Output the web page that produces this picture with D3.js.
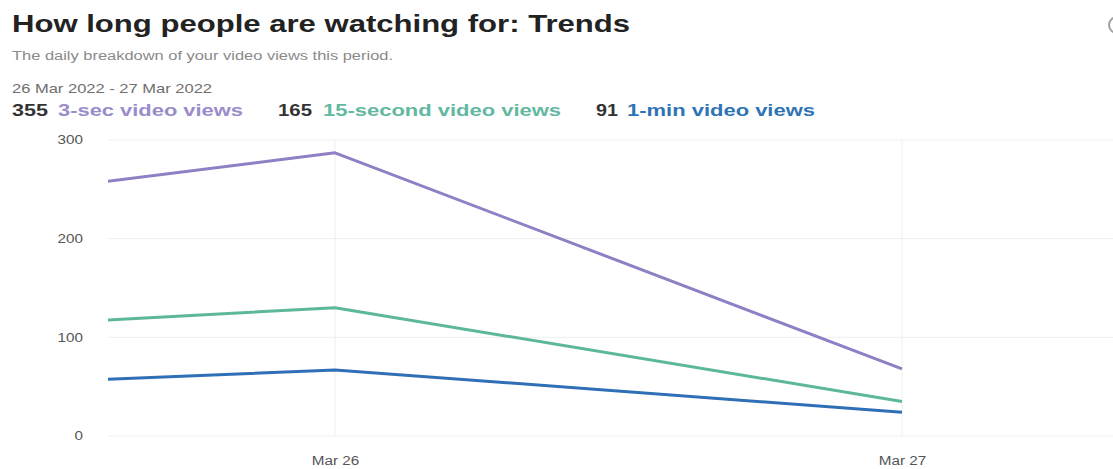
<!DOCTYPE html>
<html>
<head>
<meta charset="utf-8">
<script src="https://cdn.jsdelivr.net/npm/d3@7/dist/d3.min.js"></script>
<style>
  html, body { margin: 0; padding: 0; background: #fff; }
  svg { display: block; font-family: "Liberation Sans", Arial, sans-serif; }
</style>
</head>
<body>
<svg id="chart" width="1113" height="469"></svg>
<script>
// Daily video views by watch duration
const days = ["2022-03-25", "2022-03-26", "2022-03-27"];
const threeSecViews = [215, 287, 68];
const fifteenSecViews = [99, 130, 35];
const oneMinViews = [43, 67, 24];
const yTicks = [0, 100, 200, 300];
const xTickDays = ["2022-03-26", "2022-03-27"];
const legendTotals = [355, 165, 91];
const seriesNames = ["3-sec video views", "15-second video views", "1-min video views"];

const parseDay = d3.timeParse("%Y-%m-%d");
const lineColors = ["#8f7fc4", "#5db79b", "#2f6fb6"];
const labelColors = ["#9a8ccb", "#62b8a0", "#2e74b5"];

const svg = d3.select("#chart");
const plot = { left: 108, right: 1113, top: 140, bottom: 436 };

// Text in this layout is set wide; stretch glyphs to a given width
function fit(sel, width) {
  sel.attr("textLength", width).attr("lengthAdjust", "spacingAndGlyphs");
  return sel;
}

// Header
fit(svg.append("text").attr("x", 12).attr("y", 32)
  .attr("font-size", 24).attr("font-weight", "bold").attr("fill", "#222")
  .text("How long people are watching for: Trends"), 618);
fit(svg.append("text").attr("x", 12).attr("y", 60)
  .attr("font-size", 12).attr("fill", "#8a8a8a")
  .text("The daily breakdown of your video views this period."), 381);
fit(svg.append("text").attr("x", 12).attr("y", 93)
  .attr("font-size", 13).attr("fill", "#6e6e6e")
  .text("26 Mar 2022 - 27 Mar 2022"), 200);

// Clipped info icon at the top-right edge
svg.append("circle").attr("cx", 1117).attr("cy", 25).attr("r", 8)
  .attr("fill", "none").attr("stroke", "#a0a0a0").attr("stroke-width", 2);

// Legend: totals and series names
const legendLayout = [
  { numX: 12, numW: 36, nameX: 58, nameW: 185 },
  { numX: 278, numW: 34, nameX: 323, nameW: 238 },
  { numX: 596, numW: 22, nameX: 627, nameW: 188 }
];
legendTotals.forEach((t, i) => {
  const L = legendLayout[i];
  fit(svg.append("text").attr("x", L.numX).attr("y", 116)
    .attr("font-size", 17).attr("font-weight", "bold").attr("fill", "#333")
    .text(t), L.numW);
  fit(svg.append("text").attr("x", L.nameX).attr("y", 116)
    .attr("font-size", 17).attr("font-weight", "bold").attr("fill", labelColors[i])
    .text(seriesNames[i]), L.nameW);
});

// Scales
const x = d3.scaleTime()
  .domain([parseDay("2022-03-26"), parseDay("2022-03-27")])
  .range([335, 902]);
const y = d3.scaleLinear().domain([0, 300]).range([plot.bottom, plot.top]);

svg.append("defs").append("clipPath").attr("id", "plotClip")
  .append("rect").attr("x", plot.left).attr("y", 0)
  .attr("width", plot.right - plot.left).attr("height", 469);

// Grid lines
const grid = svg.append("g");
grid.selectAll("line.h").data(yTicks).join("line")
  .attr("x1", plot.left).attr("x2", plot.right)
  .attr("y1", d => y(d)).attr("y2", d => y(d))
  .attr("stroke", "#eeeeee").attr("stroke-width", 1);
grid.selectAll("line.v").data(xTickDays.map(parseDay)).join("line")
  .attr("x1", d => x(d)).attr("x2", d => x(d))
  .attr("y1", plot.top).attr("y2", plot.bottom)
  .attr("stroke", "#eeeeee").attr("stroke-width", 1);

// Y axis labels
const yAxis = svg.append("g").attr("transform", `translate(${plot.left - 25},0)`)
  .call(d3.axisLeft(y).tickValues(yTicks).tickSize(0).tickPadding(0));
yAxis.select(".domain").remove();
yAxis.selectAll("text").attr("font-size", 12).attr("fill", "#555")
  .attr("font-family", "'Liberation Sans', Arial, sans-serif")
  .each(function () {
    const len = this.getComputedTextLength();
    fit(d3.select(this), len * 1.27);
  });

// X axis labels
const xAxis = svg.append("g").attr("transform", `translate(0,${plot.bottom + 20})`)
  .call(d3.axisBottom(x).tickValues(xTickDays.map(parseDay))
    .tickFormat(d3.timeFormat("%b %-d")).tickSize(0).tickPadding(0));
xAxis.select(".domain").remove();
xAxis.selectAll("text").attr("font-size", 12).attr("fill", "#555")
  .attr("font-family", "'Liberation Sans', Arial, sans-serif")
  .each(function () {
    const len = this.getComputedTextLength();
    fit(d3.select(this), len * 1.27);
  });

// Lines
const series = [threeSecViews, fifteenSecViews, oneMinViews];
const line = d3.line().x((d, i) => x(parseDay(days[i]))).y(d => y(d));
const lines = svg.append("g").attr("clip-path", "url(#plotClip)");
series.forEach((vals, i) => {
  lines.append("path").datum(vals)
    .attr("d", line)
    .attr("fill", "none")
    .attr("stroke", lineColors[i])
    .attr("stroke-width", 3)
    .attr("stroke-linejoin", "round");
});
</script>
</body>
</html>
